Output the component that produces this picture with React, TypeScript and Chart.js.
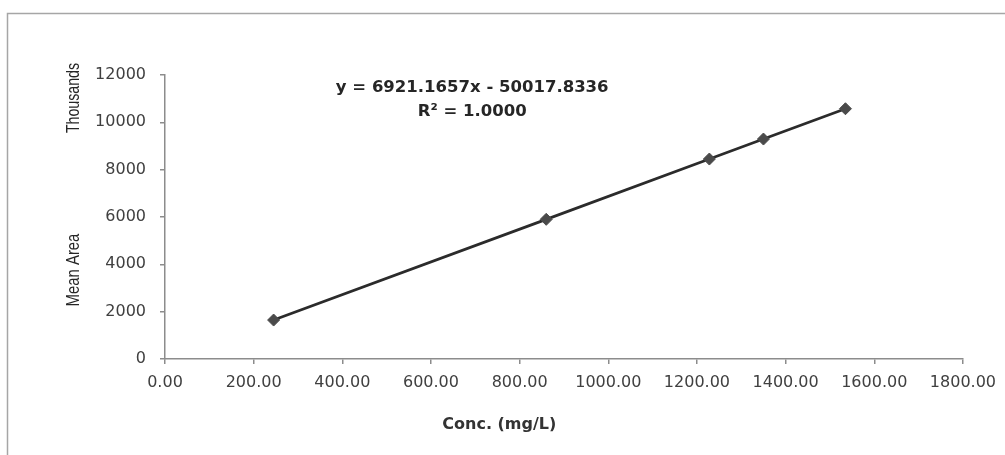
import React, { useEffect, useRef } from "react";
import { Chart, registerables } from "chart.js";

Chart.register(...registerables);

const concValues = [245, 860, 1228, 1350, 1535];
const meanAreaThousands = [1646, 5902, 8449, 9294, 10574];
const xTickValues = [0, 200, 400, 600, 800, 1000, 1200, 1400, 1600, 1800];
const yTickValues = [0, 2000, 4000, 6000, 8000, 10000, 12000];
const equationLines = ["y = 6921.1657x - 50017.8336", "R² = 1.0000"];
const xTitle = "Conc. (mg/L)";
const yTitle = "Mean Area";
const yUnitTitle = "Thousands";

const W = 1005;
const H = 455;

const decorPlugin = {
  id: "decor",
  beforeDraw(chart: any) {
    const ctx = chart.ctx;
    ctx.save();
    ctx.fillStyle = "#ffffff";
    ctx.fillRect(0, 0, W, H);
    ctx.strokeStyle = "#a6a6a6";
    ctx.lineWidth = 1.5;
    ctx.beginPath();
    ctx.moveTo(7.5, H + 5);
    ctx.lineTo(7.5, 13.5);
    ctx.lineTo(W + 5, 13.5);
    ctx.stroke();
    ctx.restore();
  },
  afterDraw(chart: any) {
    const ctx = chart.ctx;
    const area = chart.chartArea;
    ctx.save();
    // equation
    ctx.fillStyle = "#262626";
    ctx.font = "bold 16.5px 'DejaVu Sans'";
    ctx.textAlign = "center";
    ctx.textBaseline = "middle";
    const ex = area.left + (area.right - area.left) * 0.385;
    ctx.fillText(equationLines[0], ex, area.top + 13);
    ctx.fillText(equationLines[1], ex, area.top + 37);
    // x title
    ctx.font = "bold 16px 'DejaVu Sans'";
    ctx.fillStyle = "#333333";
    ctx.fillText(xTitle, area.left + (area.right - area.left) * 0.419, 425);
    // y titles (condensed)
    ctx.font = "17.5px 'Liberation Sans'";
    ctx.fillStyle = "#262626";
    ctx.save();
    ctx.translate(74, 270);
    ctx.rotate(-Math.PI / 2);
    ctx.scale(0.85, 1);
    ctx.fillText(yTitle, 0, 0);
    ctx.restore();
    ctx.save();
    ctx.translate(74, 98);
    ctx.rotate(-Math.PI / 2);
    ctx.scale(0.81, 1);
    ctx.fillText(yUnitTitle, 0, 0);
    ctx.restore();
    ctx.restore();
  },
};

export default function App() {
  const ref = useRef<HTMLCanvasElement | null>(null);
  useEffect(() => {
    if (!ref.current) return;
    const chart = new Chart(ref.current, {
      type: "scatter",
      data: {
        datasets: [
          {
            data: concValues.map((x, i) => ({ x, y: meanAreaThousands[i] })),
            showLine: true,
            borderColor: "#2b2b2b",
            borderWidth: 2.8,
            pointStyle: "rectRot",
            pointRadius: 6,
            pointBackgroundColor: "#4a4a4a",
            pointBorderColor: "#4a4a4a",
            pointBorderWidth: 1,
          },
        ],
      },
      options: {
        responsive: false,
        animation: false,
        devicePixelRatio: 1,
        layout: { padding: { left: 0, top: 75, right: 39, bottom: 0 } },
        plugins: {
          legend: { display: false },
          tooltip: { enabled: false },
        },
        scales: {
          x: {
            type: "linear",
            min: 0,
            max: 1800,
            afterBuildTicks: (s: any) => {
              s.ticks = xTickValues.map((v) => ({ value: v }));
            },
            afterFit: (s: any) => {
              s.height = 96;
            },
            ticks: {
              callback: (v: any) => Number(v).toFixed(2),
              font: { family: "'DejaVu Sans'", size: 16 },
              color: "#404040",
              padding: 9,
              maxRotation: 0,
            },
            grid: {
              drawOnChartArea: false,
              drawTicks: true,
              tickLength: 5,
              color: "#8c8c8c",
              lineWidth: 1.5,
            },
            border: { display: true, color: "#8c8c8c", width: 1.5 },
          },
          y: {
            type: "linear",
            min: 0,
            max: 12000,
            afterBuildTicks: (s: any) => {
              s.ticks = yTickValues.map((v) => ({ value: v }));
            },
            afterFit: (s: any) => {
              s.width = 165;
            },
            ticks: {
              callback: (v: any) => String(v),
              font: { family: "'DejaVu Sans'", size: 16 },
              color: "#404040",
              padding: 14,
            },
            grid: {
              drawOnChartArea: false,
              drawTicks: true,
              tickLength: 5,
              color: "#8c8c8c",
              lineWidth: 1.5,
            },
            border: { display: true, color: "#8c8c8c", width: 1.5 },
          },
        },
      },
      plugins: [decorPlugin],
    });
    return () => chart.destroy();
  }, []);
  return (
    <div style={{ position: "absolute", left: 0, top: 0, width: W, height: H, overflow: "hidden", background: "#fff" }}>
      <canvas ref={ref} width={W} height={H} style={{ display: "block", width: W, height: H }} />
    </div>
  );
}
